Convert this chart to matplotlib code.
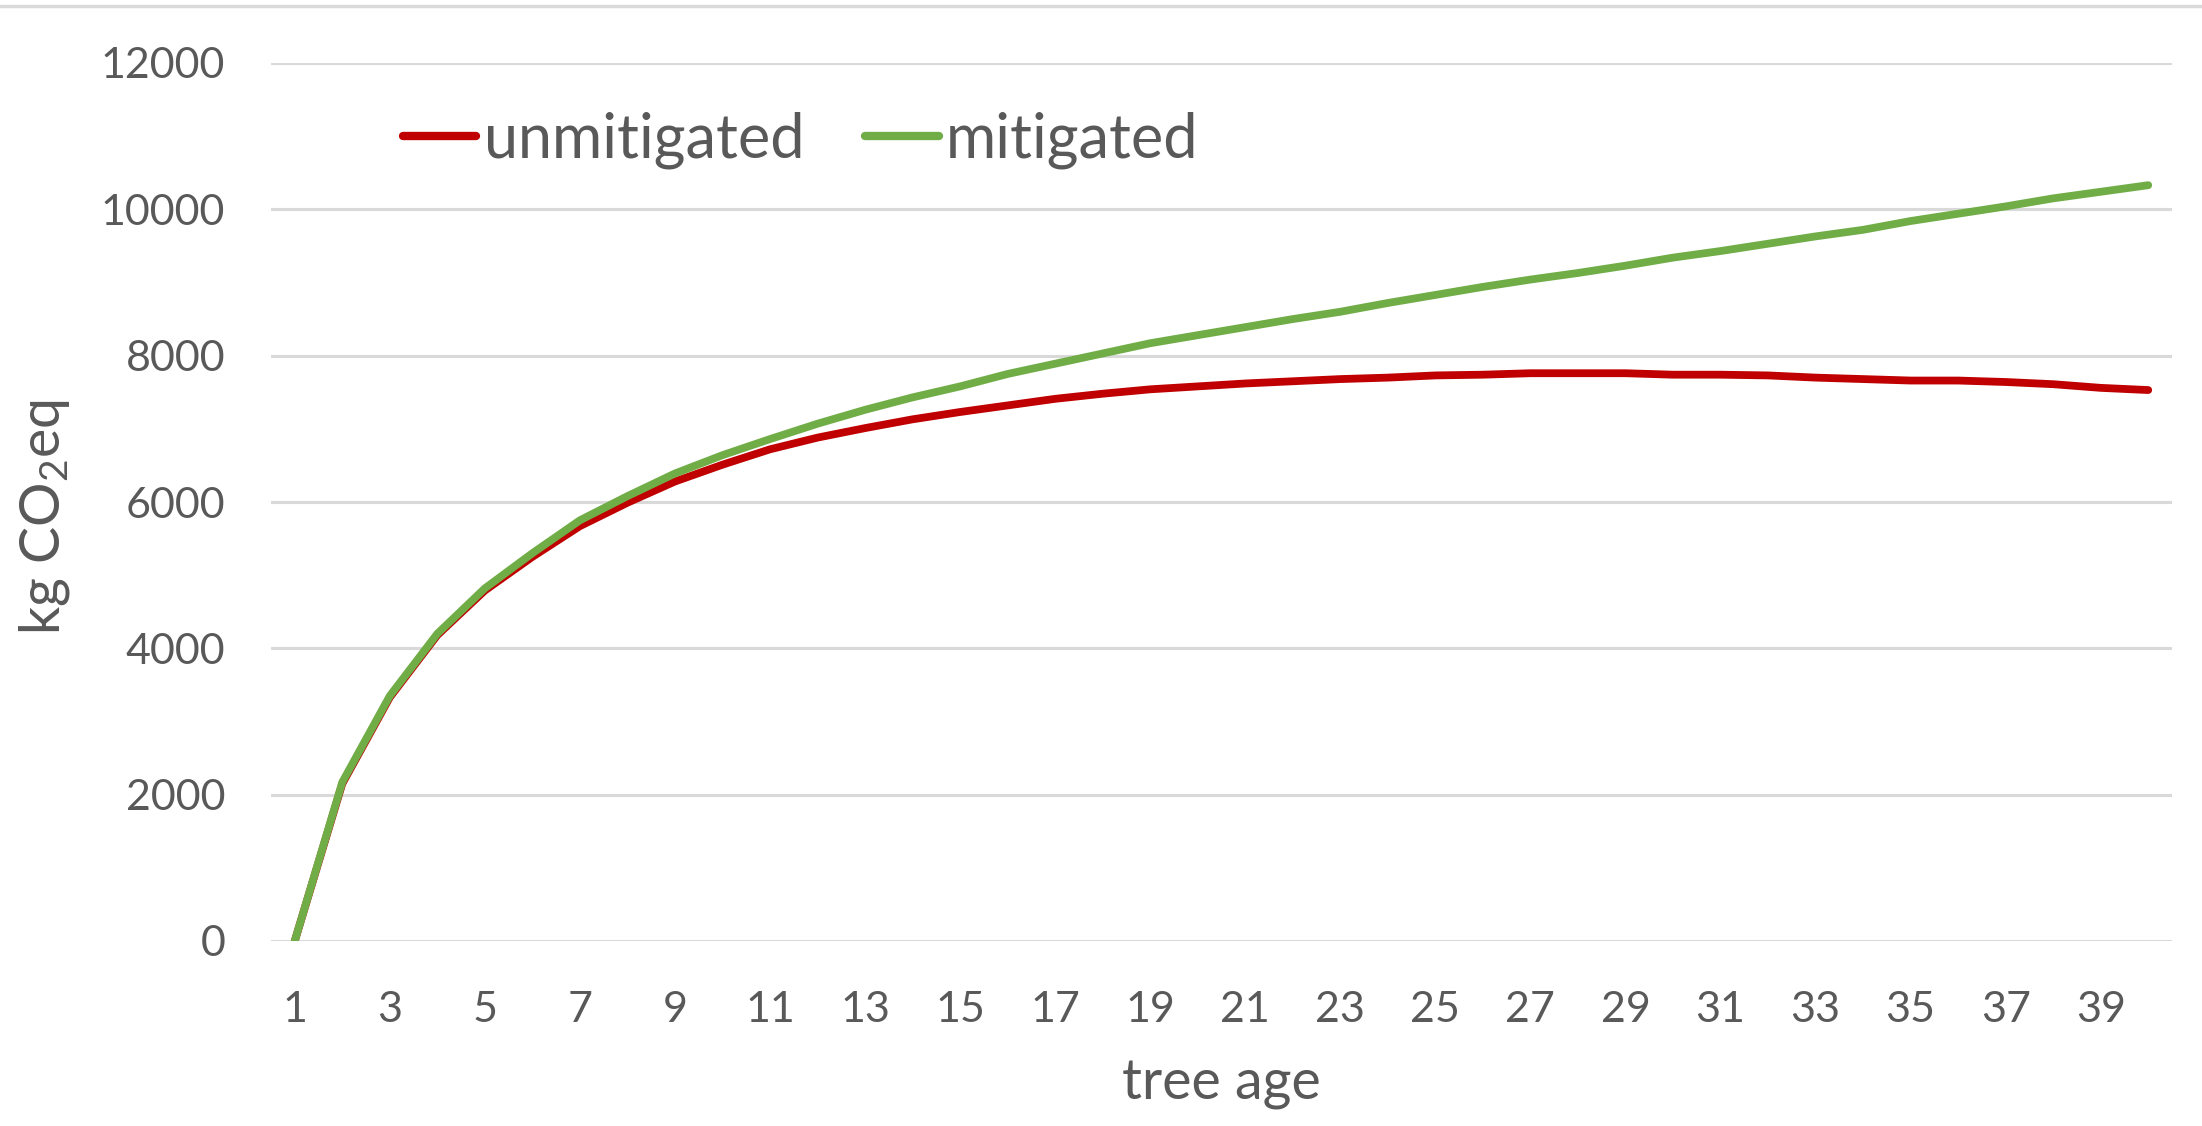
import matplotlib
matplotlib.use("Agg")
import matplotlib.pyplot as plt
from matplotlib.lines import Line2D

# ---------------- DATA ----------------
tree_age = list(range(1, 41))
unmitigated = [0, 2150, 3330, 4180, 4790, 5250, 5670, 5990, 6280, 6510,
               6720, 6880, 7010, 7130, 7230, 7320, 7410, 7480, 7540, 7580,
               7620, 7650, 7680, 7700, 7730, 7740, 7760, 7760, 7760, 7740,
               7740, 7730, 7700, 7680, 7660, 7660, 7640, 7610, 7560, 7530]
mitigated = [0, 2170, 3350, 4200, 4820, 5300, 5750, 6080, 6390, 6640,
             6860, 7070, 7260, 7430, 7580, 7750, 7890, 8030, 8170, 8280,
             8390, 8500, 8600, 8720, 8830, 8940, 9040, 9130, 9230, 9340,
             9430, 9530, 9630, 9720, 9840, 9940, 10040, 10150, 10240, 10330]
y_ticks = [0, 2000, 4000, 6000, 8000, 10000, 12000]
x_ticks = list(range(1, 40, 2))

TEXT = "#595959"
GRID = "#D9D9D9"
RED = "#C00000"
GREEN = "#70AD47"

plt.rcParams['font.family'] = ['Lato', 'DejaVu Sans']
plt.rcParams['mathtext.fontset'] = 'custom'
plt.rcParams['mathtext.rm'] = 'Lato'

W, H = 2202, 1126
fig = plt.figure(figsize=(W / 100, H / 100), dpi=100)
ax = fig.add_axes([271 / W, 1 - 941 / H, (2172 - 271) / W, (941 - 63) / H])

ax.plot(tree_age, unmitigated, color=RED, lw=5.6, solid_capstyle='round',
        solid_joinstyle='round', label='unmitigated', zorder=3)
ax.plot(tree_age, mitigated, color=GREEN, lw=5.6, solid_capstyle='round',
        solid_joinstyle='round', label='mitigated', zorder=4)

ax.set_xlim(0.5, 40.5)
ax.set_ylim(0, 12000)
ax.set_yticks(y_ticks)
ax.set_xticks(x_ticks)
ax.set_yticklabels([str(v) for v in y_ticks])
ax.set_xticklabels([str(v) for v in x_ticks])
ax.tick_params(axis='both', length=0, labelsize=31, colors=TEXT)
ax.tick_params(axis='y', pad=33)
ax.tick_params(axis='x', pad=36)

ax.grid(axis='y', color=GRID, lw=2.2)
ax.set_axisbelow(True)
for s in ax.spines.values():
    s.set_visible(False)

fig.text(45 / W, 1 - 517 / H, r'kg CO$\mathregular{_2}$eq', rotation=90,
         ha='center', va='center', fontsize=40, color=TEXT)
fig.text(1221 / W, 1 - 1085 / H, 'tree age', ha='center', va='center',
         fontsize=40, color=TEXT)

leg = ax.legend(loc='center left', bbox_to_anchor=(403 / W, 1 - 140 / H),
                bbox_transform=fig.transFigure, ncol=2, frameon=False,
                fontsize=44, handlelength=1.2, handletextpad=0.12,
                columnspacing=1.0, borderpad=0, borderaxespad=0)
for t in leg.get_texts():
    t.set_color(TEXT)
for l in leg.get_lines():
    l.set_linewidth(6)
    l.set_solid_capstyle('round')

# thin border line along the top of the chart
fig.add_artist(Line2D([0, 1], [1 - 6 / H, 1 - 6 / H], color=GRID, lw=2.5,
                      transform=fig.transFigure))

fig.savefig("out.png", dpi=100, facecolor='white')
